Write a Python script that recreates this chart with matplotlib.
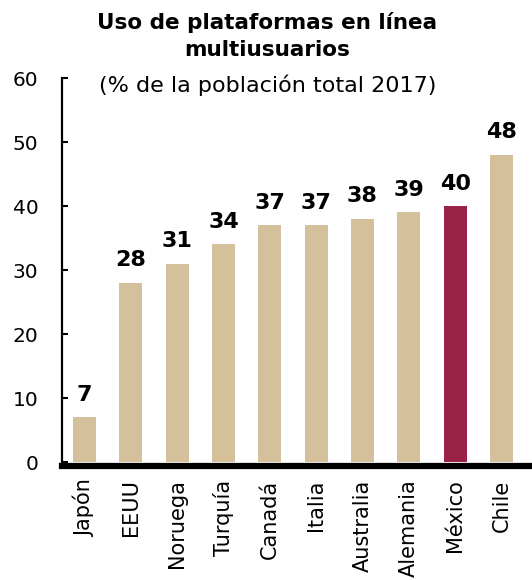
import matplotlib
matplotlib.use("Agg")
import matplotlib.pyplot as plt

# data
paises = ["Japón", "EEUU", "Noruega", "Turquía", "Canadá", "Italia",
          "Australia", "Alemania", "México", "Chile"]
valores = [7, 28, 31, 34, 37, 37, 38, 39, 40, 48]
resaltado = "México"

color_base = "#D4C19C"
color_mex = "#9B2247"


def main():
    plt.rcParams['font.family'] = ['DejaVu Sans']
    fig = plt.figure(figsize=(5.32, 5.8), dpi=100)
    ax = fig.add_axes([0.1165, 0.2034, 0.8835, 0.662])

    # spines first: moving a spine resets the tick labels
    ax.spines["top"].set_visible(False)
    ax.spines["right"].set_visible(False)
    ax.spines["left"].set_linewidth(1.6)
    ax.spines["bottom"].set_linewidth(4.5)
    ax.spines["bottom"].set_position(("outward", 2.5))

    colores = [color_mex if p == resaltado else color_base for p in paises]
    x = list(range(len(paises)))
    ax.bar(x, valores, width=0.5, color=colores)

    for xi, v in zip(x, valores):
        ax.annotate(str(v), (xi, v), xytext=(0, 9), textcoords="offset points",
                    ha="center", va="bottom", fontsize=16, fontweight="bold")

    ax.set_xlim(-0.486, 9.66)
    ax.set_ylim(0, 60)
    ax.set_yticks([0, 10, 20, 30, 40, 50, 60])
    ax.set_xticks(x)
    ax.set_xticklabels(paises, rotation=90, fontsize=15)
    ax.tick_params(axis="y", labelsize=14.5, direction="in", length=4, width=1.5, pad=17)
    ax.tick_params(axis="x", length=0, pad=10)

    fig.text(0.502, 0.962, "Uso de plataformas en línea", ha="center", va="center",
             fontsize=15.5, fontweight="bold")
    fig.text(0.502, 0.913, "multiusuarios", ha="center", va="center",
             fontsize=15.5, fontweight="bold")
    fig.text(0.504, 0.853, "(% de la población total 2017)", ha="center", va="center",
             fontsize=16)

    fig.savefig("out.png", dpi=100)


if __name__ == "__main__":
    main()
